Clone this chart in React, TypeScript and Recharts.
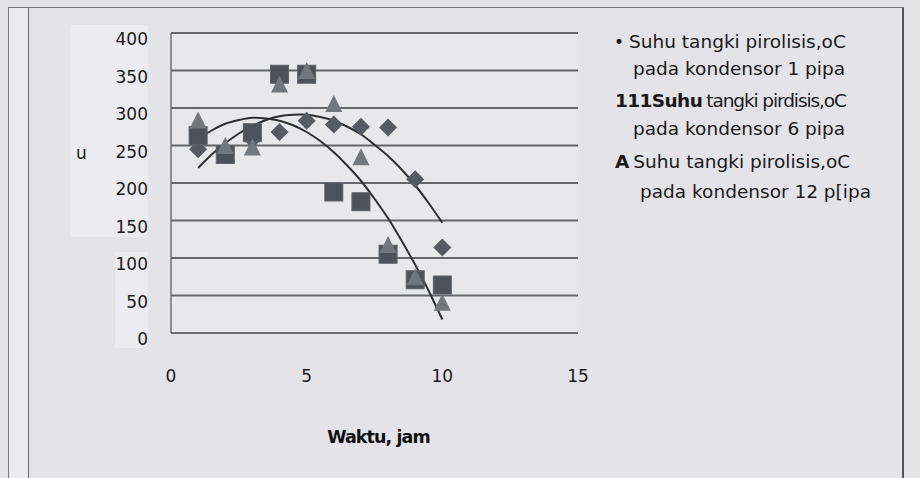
import React from 'react';
import { ComposedChart, Scatter, Line, XAxis, YAxis, CartesianGrid, Legend, Label } from 'recharts';

const hours = [1, 2, 3, 4, 5, 6, 7, 8, 9, 10];
const tempPipe1 = [245, 238, 258, 268, 283, 278, 275, 274, 205, 114];
const tempPipe6 = [263, 238, 267, 345, 345, 188, 175, 105, 71, 64];
const tempPipe12 = [282, 248, 246, 330, 348, 304, 233, 116, 73, 39];

const trendHours = [1, 1.5, 2, 2.5, 3, 3.5, 4, 4.5, 5, 5.5, 6, 6.5, 7, 7.5, 8, 8.5, 9, 9.5, 10];
const trendPipe1 = [220, 238, 253, 266, 276, 284, 289, 291, 291, 288, 283, 275, 265, 251, 236, 218, 197, 173, 147];
const trendPipe6 = [259, 270, 279, 284, 287, 286, 283, 277, 268, 256, 241, 223, 203, 179, 153, 123, 91, 56, 18];

const xTicks = [0, 5, 10, 15];
const yTicks = [0, 50, 100, 150, 200, 250, 300, 350, 400];

const legendLines = [
  'Suhu tangki pirolisis,oC',
  'pada kondensor 1 pipa',
  'Suhu',
  'tangki pirdisis,oC',
  'pada kondensor 6 pipa',
  'Suhu tangki pirolisis,oC',
  'pada kondensor 12 p[ipa',
];

const toPoints = (xs: number[], ys: number[]) => xs.map((x, i) => ({ x, y: ys[i] }));

const FONT = '"DejaVu Sans", Verdana, sans-serif';

const DiamondShape = (p: any) => {
  const { cx, cy } = p;
  const r = 9;
  return <path d={`M${cx},${cy - r}L${cx + r},${cy}L${cx},${cy + r}L${cx - r},${cy}Z`} fill="#575a63" />;
};
const SquareShape = (p: any) => {
  const { cx, cy } = p;
  const h = 9;
  return <rect x={cx - h} y={cy - h} width={2 * h} height={2 * h} fill="#4e5159" stroke="#5d6068" strokeWidth={1} />;
};
const TriangleShape = (p: any) => {
  const { cx, cy } = p;
  return <path d={`M${cx},${cy - 10}L${cx + 8.5},${cy + 7}L${cx - 8.5},${cy + 7}Z`} fill="#74767e" />;
};

const YTick = (p: any) => {
  const { x, y, payload } = p;
  return (
    <text x={x} y={y} dy={12} textAnchor="end" fontSize={17} fontFamily={FONT} fill="#1a1a1a">
      {payload.value}
    </text>
  );
};

const LegendContent = () => {
  const base: React.CSSProperties = { position: 'absolute', whiteSpace: 'nowrap', fontFamily: FONT, fontSize: 18.5, color: '#1a1a1a', lineHeight: '20px' };
  return (
    <div style={{ position: 'relative', width: 300, height: 200 }}>
      <div style={{ ...base, left: 14, top: 12 }}>
        <span style={{ fontSize: 17, marginRight: 5 }}>•</span>{legendLines[0]}
      </div>
      <div style={{ ...base, left: 33, top: 39 }}>{legendLines[1]}</div>
      <div style={{ ...base, left: 15, top: 71 }}>
        <span style={{ fontWeight: 'bold', letterSpacing: -0.6 }}>111{legendLines[2]}</span>
        <span style={{ letterSpacing: -1.1, marginLeft: 4 }}>{legendLines[3]}</span>
      </div>
      <div style={{ ...base, left: 33, top: 99 }}>{legendLines[4]}</div>
      <div style={{ ...base, left: 15, top: 132 }}>
        <span style={{ fontWeight: 'bold', marginRight: 4 }}>A</span>{legendLines[5]}
      </div>
      <div style={{ ...base, left: 40, top: 162 }}>{legendLines[6]}</div>
    </div>
  );
};

export default function App() {
  const s1 = toPoints(hours, tempPipe1);
  const s6 = toPoints(hours, tempPipe6);
  const s12 = toPoints(hours, tempPipe12);
  const t1 = toPoints(trendHours, trendPipe1);
  const t6 = toPoints(trendHours, trendPipe6);
  return (
    <div style={{ position: 'absolute', left: 0, top: 0, width: 920, height: 478, background: '#e3e3e8', overflow: 'hidden', fontFamily: FONT }}>
      <div style={{ position: 'absolute', left: 8, top: 8, width: 19, height: 470, background: '#ebebef', borderLeft: '1.5px solid #777', borderRight: '1.5px solid #666' }} />
      <div style={{ position: 'absolute', left: 8, top: 7, width: 896, height: 1, borderTop: '1.5px solid #777' }} />
      <div style={{ position: 'absolute', left: 902, top: 8, width: 1, height: 470, borderLeft: '2px solid #555' }} />
      <div style={{ position: 'absolute', left: 70, top: 25, width: 78, height: 212, background: '#ececf0' }} />
      <div style={{ position: 'absolute', left: 115, top: 252, width: 33, height: 96, background: '#ececf0' }} />
      <div style={{ position: 'absolute', left: 0, top: 0 }}>
        <ComposedChart width={920} height={478} margin={{ top: 33, right: 342, bottom: 0, left: 71 }}>
          <CartesianGrid vertical={false} stroke="#65666c" strokeWidth={2} fill="#e8e8ec" />
          <XAxis
            type="number"
            dataKey="x"
            domain={[0, 15]}
            ticks={xTicks}
            allowDataOverflow
            height={145}
            tickSize={0}
            tickMargin={37}
            tickLine={false}
            axisLine={{ stroke: '#707075', strokeWidth: 1.5 }}
            tick={{ fontSize: 17, fill: '#1a1a1a', fontFamily: FONT }}
          >
            <Label value="Waktu, jam" position="insideBottom" offset={35} dx={4} fontSize={17.5} fontWeight="bold" fill="#111" letterSpacing={-0.9} fontFamily={FONT} />
          </XAxis>
          <YAxis
            type="number"
            domain={[0, 400]}
            ticks={yTicks}
            width={100}
            tickSize={0}
            tickMargin={23}
            tickLine={false}
            axisLine={{ stroke: '#707075', strokeWidth: 1.5 }}
            tick={<YTick />}
          >
            <Label value="u" position="insideLeft" offset={5} dy={-30} fontSize={17} fill="#1a1a1a" fontFamily={FONT} />
          </YAxis>
          <Legend layout="horizontal" verticalAlign="middle" align="center" content={<LegendContent />} wrapperStyle={{ position: 'absolute', left: 600, top: 20, width: 300, height: 200 }} />
          <Scatter name="Suhu tangki pirolisis,oC pada kondensor 1 pipa" data={s1} dataKey="y" shape={<DiamondShape />} isAnimationActive={false} />
          <Scatter name="Suhu tangki pirolisis,oC pada kondensor 6 pipa" data={s6} dataKey="y" shape={<SquareShape />} isAnimationActive={false} />
          <Scatter name="Suhu tangki pirolisis,oC pada kondensor 12 pipa" data={s12} dataKey="y" shape={<TriangleShape />} isAnimationActive={false} />
          <Line data={t1} dataKey="y" type="natural" stroke="#2e2f33" strokeWidth={2} dot={false} activeDot={false} legendType="none" isAnimationActive={false} />
          <Line data={t6} dataKey="y" type="natural" stroke="#2e2f33" strokeWidth={2} dot={false} activeDot={false} legendType="none" isAnimationActive={false} />
        </ComposedChart>
      </div>
    </div>
  );
}
